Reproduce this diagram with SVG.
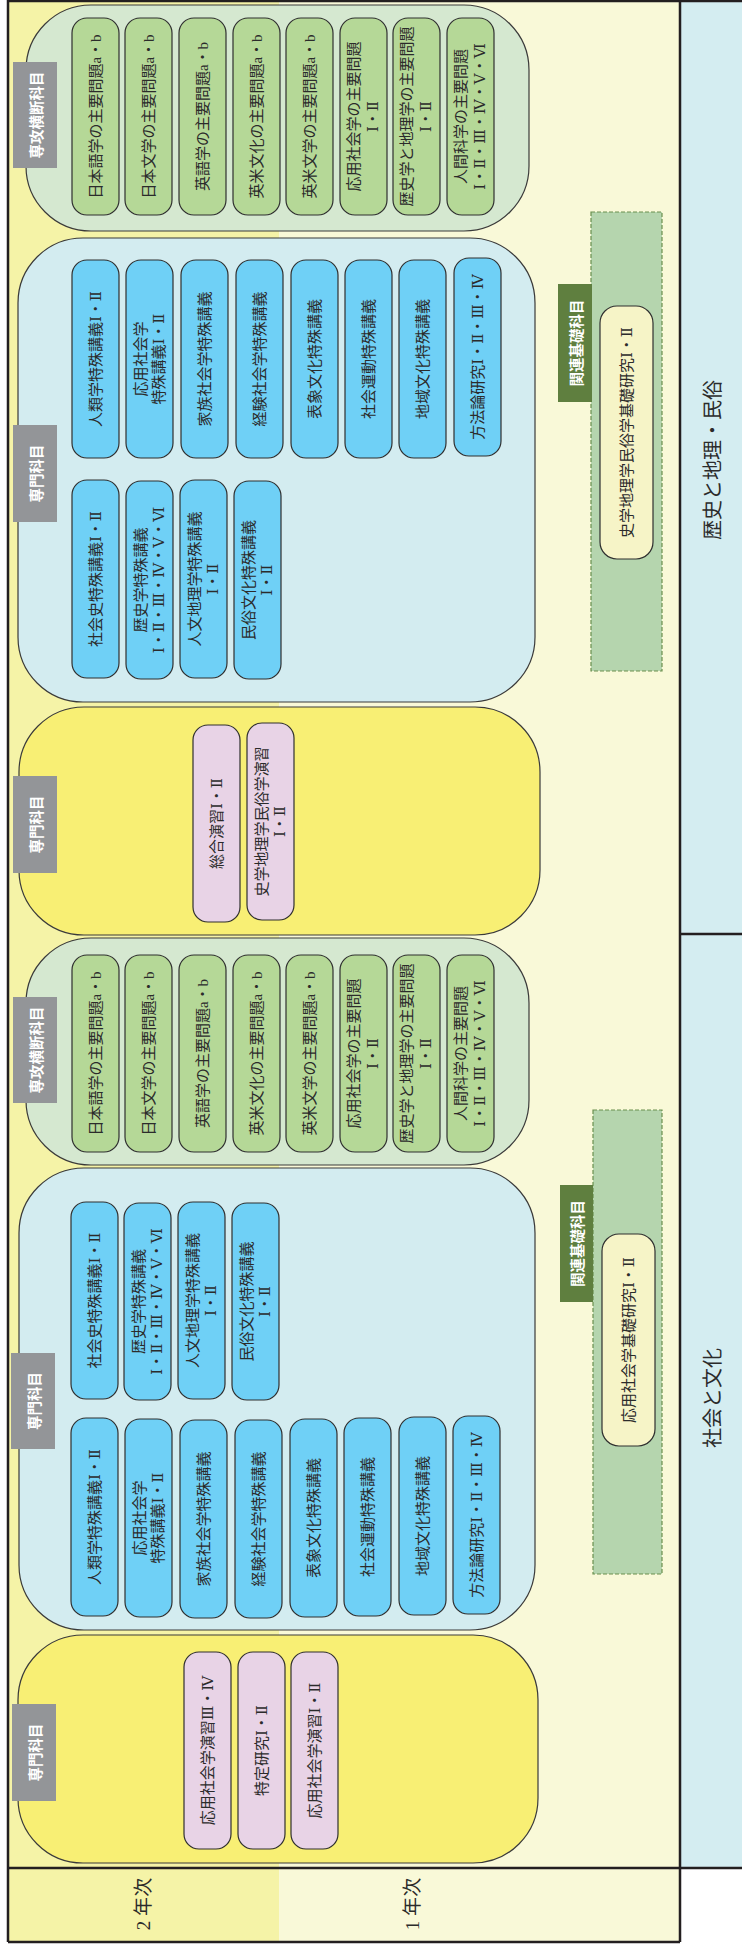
<svg xmlns="http://www.w3.org/2000/svg" width="742" height="1948" viewBox="0 0 742 1948">
<style>
.bgd{fill:#f5f3a7}.bgl{fill:#f9f9d8}.col{fill:#d4edf1}
.frame{stroke:#231f20;stroke-width:2.5;fill:none}
.grp{stroke:#3a3a3a;stroke-width:1.2}
.gg{fill:#d5e8d0}.gb{fill:#d3ecf0}.gy{fill:#f8ef74}
.pill{stroke:#2f2f2f;stroke-width:1.2}
.pg{fill:#b5d897}.pb{fill:#6fd0f6}.pl{fill:#e8d3e6}.py{fill:#f6f4c7}
.tab{fill:#939598}.tabg{fill:#5f7f3f}
.dash{fill:#b5d5ae;stroke:#6a8f4e;stroke-width:1.2;stroke-dasharray:4 2}
.t{font-family:"Liberation Serif","DejaVu Serif","Noto Sans CJK JP",serif;font-size:15px;fill:#2b2b2b;text-anchor:middle;dominant-baseline:central}
.tw{font-family:"Noto Sans CJK JP",sans-serif;font-weight:bold;font-size:14.5px;fill:#fff;text-anchor:middle;dominant-baseline:central}
.big{font-size:20px}
.yr{font-size:19px}
</style>
<g id="background">
<rect class="bgd" x="8" y="0" width="271" height="1942"/>
<rect class="bgl" x="279" y="0" width="401" height="1942"/>
<rect class="col" x="680" y="0" width="62" height="1868"/>
</g>
<g id="frame">
<line class="frame" x1="8" y1="1" x2="742" y2="1"/>
<line class="frame" x1="8" y1="0" x2="8" y2="1942"/>
<line class="frame" x1="680" y1="0" x2="680" y2="1942"/>
<line class="frame" x1="8" y1="1868" x2="742" y2="1868"/>
<line class="frame" x1="8" y1="1942" x2="680" y2="1942"/>
<line class="frame" x1="680" y1="934" x2="742" y2="934"/>
</g>
<g id="col-history">
<text class="t big" transform="translate(713,460) rotate(-90)">歴史と地理・民俗</text>
</g>
<g id="col-society">
<text class="t big" transform="translate(713,1398) rotate(-90)">社会と文化</text>
</g>
<g id="year2">
<text class="t yr" transform="translate(143,1904) rotate(-90)">2 年次</text>
</g>
<g id="year1">
<text class="t yr" transform="translate(412,1904) rotate(-90)">1 年次</text>
</g>

<!-- Green group A -->
<g id="cross-a">
<rect class="grp gg" x="26" y="5" width="503" height="226" rx="65" ry="65"/>
<rect class="tab" x="13" y="62" width="44" height="106"/>
<text class="tw" transform="translate(35,115) rotate(-90)">専攻横断科目</text>
<rect class="pill pg" x="72" y="18" width="47" height="197" rx="15"/>
<rect class="pill pg" x="125" y="18" width="47" height="197" rx="15"/>
<rect class="pill pg" x="179" y="18" width="47" height="197" rx="15"/>
<rect class="pill pg" x="233" y="18" width="47" height="197" rx="15"/>
<rect class="pill pg" x="286" y="18" width="47" height="197" rx="15"/>
<rect class="pill pg" x="340" y="18" width="47" height="197" rx="15"/>
<rect class="pill pg" x="393" y="18" width="47" height="197" rx="15"/>
<rect class="pill pg" x="447" y="18" width="47" height="197" rx="15"/>
<text class="t" transform="translate(95.5,116.5) rotate(-90)">日本語学の主要問題a・b</text>
<text class="t" transform="translate(148.5,116.5) rotate(-90)">日本文学の主要問題a・b</text>
<text class="t" transform="translate(202.5,116.5) rotate(-90)">英語学の主要問題a・b</text>
<text class="t" transform="translate(256.5,116.5) rotate(-90)">英米文化の主要問題a・b</text>
<text class="t" transform="translate(309.5,116.5) rotate(-90)">英米文学の主要問題a・b</text>
<text class="t" transform="translate(363.5,116.5) rotate(-90)"><tspan x="0" y="-9.5">応用社会学の主要問題</tspan><tspan x="0" y="9.5">Ⅰ・Ⅱ</tspan></text>
<text class="t" transform="translate(416.5,116.5) rotate(-90)"><tspan x="0" y="-9.5">歴史学と地理学の主要問題</tspan><tspan x="0" y="9.5">Ⅰ・Ⅱ</tspan></text>
<text class="t" transform="translate(470.5,116.5) rotate(-90)"><tspan x="0" y="-9.5">人間科学の主要問題</tspan><tspan x="0" y="9.5">Ⅰ・Ⅱ・Ⅲ・Ⅳ・Ⅴ・Ⅵ</tspan></text>
</g>

<!-- Blue group A -->
<g id="special-a">
<rect class="grp gb" x="18" y="238" width="517" height="464" rx="65" ry="65"/>
<rect class="tab" x="13" y="425" width="44" height="97"/>
<text class="tw" transform="translate(35,473.5) rotate(-90)">専門科目</text>
<rect class="pill pb" x="72" y="260" width="47" height="198" rx="15"/>
<rect class="pill pb" x="126" y="260" width="47" height="198" rx="15"/>
<rect class="pill pb" x="181" y="260" width="47" height="198" rx="15"/>
<rect class="pill pb" x="236" y="260" width="47" height="198" rx="15"/>
<rect class="pill pb" x="291" y="260" width="47" height="198" rx="15"/>
<rect class="pill pb" x="345" y="260" width="47" height="198" rx="15"/>
<rect class="pill pb" x="399" y="260" width="47" height="198" rx="15"/>
<rect class="pill pb" x="454" y="258" width="47" height="198" rx="15"/>
<text class="t" transform="translate(95.5,359) rotate(-90)">人類学特殊講義Ⅰ・Ⅱ</text>
<text class="t" transform="translate(149.5,359) rotate(-90)"><tspan x="0" y="-9">応用社会学</tspan><tspan x="0" y="9">特殊講義Ⅰ・Ⅱ</tspan></text>
<text class="t" transform="translate(204.5,359) rotate(-90)">家族社会学特殊講義</text>
<text class="t" transform="translate(259.5,359) rotate(-90)">経験社会学特殊講義</text>
<text class="t" transform="translate(314.5,359) rotate(-90)">表象文化特殊講義</text>
<text class="t" transform="translate(368.5,359) rotate(-90)">社会運動特殊講義</text>
<text class="t" transform="translate(422.5,359) rotate(-90)">地域文化特殊講義</text>
<text class="t" transform="translate(477.5,357) rotate(-90)">方法論研究Ⅰ・Ⅱ・Ⅲ・Ⅳ</text>
<rect class="pill pb" x="72" y="480" width="47" height="198" rx="15"/>
<rect class="pill pb" x="126" y="481" width="47" height="198" rx="15"/>
<rect class="pill pb" x="180" y="480" width="47" height="198" rx="15"/>
<rect class="pill pb" x="234" y="481" width="47" height="198" rx="15"/>
<text class="t" transform="translate(95.5,579) rotate(-90)">社会史特殊講義Ⅰ・Ⅱ</text>
<text class="t" transform="translate(149.5,580) rotate(-90)"><tspan x="0" y="-9">歴史学特殊講義</tspan><tspan x="0" y="9">Ⅰ・Ⅱ・Ⅲ・Ⅳ・Ⅴ・Ⅵ</tspan></text>
<text class="t" transform="translate(203.5,579) rotate(-90)"><tspan x="0" y="-9">人文地理学特殊講義</tspan><tspan x="0" y="9">Ⅰ・Ⅱ</tspan></text>
<text class="t" transform="translate(257.5,580) rotate(-90)"><tspan x="0" y="-9">民俗文化特殊講義</tspan><tspan x="0" y="9">Ⅰ・Ⅱ</tspan></text>
</g>

<!-- Yellow group A -->
<g id="seminar-a">
<rect class="grp gy" x="19" y="707" width="521" height="228" rx="65" ry="65"/>
<rect class="tab" x="13" y="776" width="44" height="97"/>
<text class="tw" transform="translate(35,824.5) rotate(-90)">専門科目</text>
<rect class="pill pl" x="193" y="725" width="47" height="197" rx="15"/>
<rect class="pill pl" x="247" y="723" width="47" height="197" rx="15"/>
<text class="t" transform="translate(216.5,823.5) rotate(-90)">総合演習Ⅰ・Ⅱ</text>
<text class="t" transform="translate(270.5,821.5) rotate(-90)"><tspan x="0" y="-9">史学地理学民俗学演習</tspan><tspan x="0" y="9">Ⅰ・Ⅱ</tspan></text>
</g>

<!-- Green group B -->
<g id="cross-b">
<rect class="grp gg" x="26" y="938" width="503" height="227" rx="65" ry="65"/>
<rect class="tab" x="13" y="997" width="44" height="106"/>
<text class="tw" transform="translate(35,1050) rotate(-90)">専攻横断科目</text>
<rect class="pill pg" x="72" y="955" width="47" height="197" rx="15"/>
<rect class="pill pg" x="125" y="955" width="47" height="197" rx="15"/>
<rect class="pill pg" x="179" y="955" width="47" height="197" rx="15"/>
<rect class="pill pg" x="233" y="955" width="47" height="197" rx="15"/>
<rect class="pill pg" x="286" y="955" width="47" height="197" rx="15"/>
<rect class="pill pg" x="340" y="955" width="47" height="197" rx="15"/>
<rect class="pill pg" x="393" y="955" width="47" height="197" rx="15"/>
<rect class="pill pg" x="447" y="955" width="47" height="197" rx="15"/>
<text class="t" transform="translate(95.5,1053.5) rotate(-90)">日本語学の主要問題a・b</text>
<text class="t" transform="translate(148.5,1053.5) rotate(-90)">日本文学の主要問題a・b</text>
<text class="t" transform="translate(202.5,1053.5) rotate(-90)">英語学の主要問題a・b</text>
<text class="t" transform="translate(256.5,1053.5) rotate(-90)">英米文化の主要問題a・b</text>
<text class="t" transform="translate(309.5,1053.5) rotate(-90)">英米文学の主要問題a・b</text>
<text class="t" transform="translate(363.5,1053.5) rotate(-90)"><tspan x="0" y="-9.5">応用社会学の主要問題</tspan><tspan x="0" y="9.5">Ⅰ・Ⅱ</tspan></text>
<text class="t" transform="translate(416.5,1053.5) rotate(-90)"><tspan x="0" y="-9.5">歴史学と地理学の主要問題</tspan><tspan x="0" y="9.5">Ⅰ・Ⅱ</tspan></text>
<text class="t" transform="translate(470.5,1053.5) rotate(-90)"><tspan x="0" y="-9.5">人間科学の主要問題</tspan><tspan x="0" y="9.5">Ⅰ・Ⅱ・Ⅲ・Ⅳ・Ⅴ・Ⅵ</tspan></text>
</g>

<!-- Blue group B -->
<g id="special-b">
<rect class="grp gb" x="19" y="1168" width="516" height="462" rx="65" ry="65"/>
<rect class="tab" x="11" y="1353" width="44" height="96"/>
<text class="tw" transform="translate(33,1401) rotate(-90)">専門科目</text>
<rect class="pill pb" x="71" y="1202" width="47" height="197" rx="15"/>
<rect class="pill pb" x="124" y="1203" width="47" height="197" rx="15"/>
<rect class="pill pb" x="178" y="1202" width="47" height="197" rx="15"/>
<rect class="pill pb" x="232" y="1203" width="47" height="197" rx="15"/>
<text class="t" transform="translate(94.5,1300.5) rotate(-90)">社会史特殊講義Ⅰ・Ⅱ</text>
<text class="t" transform="translate(147.5,1301.5) rotate(-90)"><tspan x="0" y="-9">歴史学特殊講義</tspan><tspan x="0" y="9">Ⅰ・Ⅱ・Ⅲ・Ⅳ・Ⅴ・Ⅵ</tspan></text>
<text class="t" transform="translate(201.5,1300.5) rotate(-90)"><tspan x="0" y="-9">人文地理学特殊講義</tspan><tspan x="0" y="9">Ⅰ・Ⅱ</tspan></text>
<text class="t" transform="translate(255.5,1301.5) rotate(-90)"><tspan x="0" y="-9">民俗文化特殊講義</tspan><tspan x="0" y="9">Ⅰ・Ⅱ</tspan></text>
<rect class="pill pb" x="71" y="1418" width="47" height="198" rx="15"/>
<rect class="pill pb" x="125" y="1419" width="47" height="198" rx="15"/>
<rect class="pill pb" x="180" y="1420" width="47" height="198" rx="15"/>
<rect class="pill pb" x="235" y="1420" width="47" height="198" rx="15"/>
<rect class="pill pb" x="290" y="1419" width="47" height="198" rx="15"/>
<rect class="pill pb" x="344" y="1418" width="47" height="198" rx="15"/>
<rect class="pill pb" x="399" y="1417" width="47" height="198" rx="15"/>
<rect class="pill pb" x="453" y="1416" width="47" height="198" rx="15"/>
<text class="t" transform="translate(94.5,1517) rotate(-90)">人類学特殊講義Ⅰ・Ⅱ</text>
<text class="t" transform="translate(148.5,1518) rotate(-90)"><tspan x="0" y="-9">応用社会学</tspan><tspan x="0" y="9">特殊講義Ⅰ・Ⅱ</tspan></text>
<text class="t" transform="translate(203.5,1519) rotate(-90)">家族社会学特殊講義</text>
<text class="t" transform="translate(258.5,1519) rotate(-90)">経験社会学特殊講義</text>
<text class="t" transform="translate(313.5,1518) rotate(-90)">表象文化特殊講義</text>
<text class="t" transform="translate(367.5,1517) rotate(-90)">社会運動特殊講義</text>
<text class="t" transform="translate(422.5,1516) rotate(-90)">地域文化特殊講義</text>
<text class="t" transform="translate(476.5,1515) rotate(-90)">方法論研究Ⅰ・Ⅱ・Ⅲ・Ⅳ</text>
</g>

<!-- Yellow group B -->
<g id="seminar-b">
<rect class="grp gy" x="18" y="1635" width="520" height="228" rx="65" ry="65"/>
<rect class="tab" x="12" y="1704" width="44" height="97"/>
<text class="tw" transform="translate(34,1752.5) rotate(-90)">専門科目</text>
<rect class="pill pl" x="184" y="1652" width="47" height="197" rx="15"/>
<rect class="pill pl" x="238" y="1652" width="47" height="197" rx="15"/>
<rect class="pill pl" x="291" y="1652" width="47" height="197" rx="15"/>
<text class="t" transform="translate(207.5,1750.5) rotate(-90)">応用社会学演習Ⅲ・Ⅳ</text>
<text class="t" transform="translate(261.5,1750.5) rotate(-90)">特定研究Ⅰ・Ⅱ</text>
<text class="t" transform="translate(314.5,1750.5) rotate(-90)">応用社会学演習Ⅰ・Ⅱ</text>
</g>

<!-- Related basics A -->
<g id="basic-a">
<rect class="dash" x="591" y="212" width="71" height="459"/>
<rect class="tabg" x="558" y="284" width="34" height="118"/>
<text class="tw" transform="translate(575,343) rotate(-90)">関連基礎科目</text>
<rect class="pill py" x="600" y="306" width="53" height="253" rx="17"/>
<text class="t" transform="translate(626.5,432.5) rotate(-90)">史学地理学民俗学基礎研究Ⅰ・Ⅱ</text>
</g>

<!-- Related basics B -->
<g id="basic-b">
<rect class="dash" x="593" y="1110" width="69" height="464"/>
<rect class="tabg" x="560" y="1185" width="33" height="117"/>
<text class="tw" transform="translate(576.5,1243.5) rotate(-90)">関連基礎科目</text>
<rect class="pill py" x="602" y="1234" width="53" height="212" rx="17"/>
<text class="t" transform="translate(628.5,1340) rotate(-90)">応用社会学基礎研究Ⅰ・Ⅱ</text>
</g>
<g id="connectors"/>
</svg>
